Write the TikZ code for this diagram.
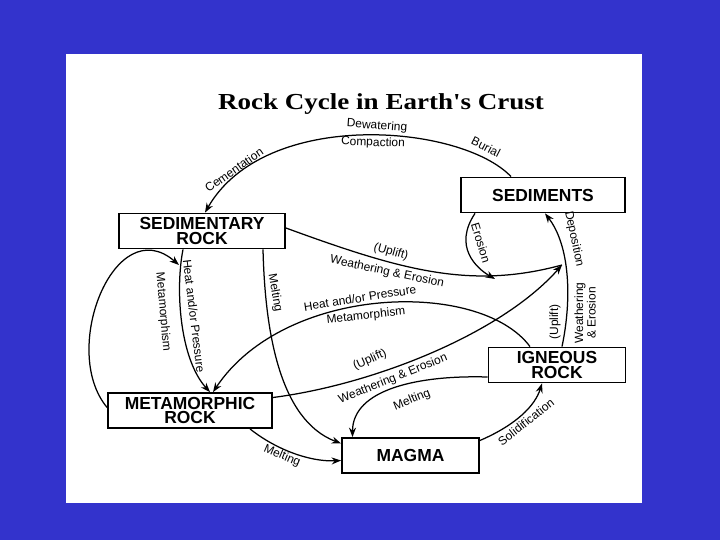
\documentclass[tikz,border=0pt]{standalone}
\usepackage{fontspec}
\setsansfont{Liberation Sans}
\newfontfamily\titlefont[FakeStretch=1.18]{Liberation Serif}
\usepackage{tikz}
\usetikzlibrary{arrows.meta}

\definecolor{slideblue}{RGB}{51,51,204}

\begin{document}
\begin{tikzpicture}[x=1bp, y=-1bp,
    every node/.style={font=\sffamily\fontsize{12}{12.5}\selectfont, inner sep=0pt},
    rockbox/.style={draw, line width=1.8bp, align=center, minimum height=35bp,
        font=\sffamily\bfseries\fontsize{17.5}{14.5}\selectfont},
    flowline/.style={line width=1.25bp},
    flow/.style={flowline, -{Stealth[length=9.5bp, width=7bp]}},
    lbl/.style={align=center}]
    \useasboundingbox (0,0) rectangle (720,540);
    \fill[slideblue] (0,0) rectangle (720,540);
    \fill[white] (66,54) rectangle (642,503);

    \node[font=\titlefont\bfseries\fontsize{23}{25}\selectfont] (title) at (381,104) {Rock Cycle in Earth's Crust};

    % Rock boxes
    \node[rockbox, minimum width=164bp] (sediments) at (543,195) {SEDIMENTS};
    \node[rockbox, minimum width=166bp] (sedrock) at (202,231) {SEDIMENTARY\\ROCK};
    \node[rockbox, minimum width=164bp] (metarock) at (190,410.5) {METAMORPHIC\\ROCK};
    \node[rockbox, minimum width=137bp] (magma) at (410.5,455.5) {MAGMA};
    \node[rockbox, minimum width=137bp] (igneous) at (557,365) {IGNEOUS\\ROCK};

    % Meeting points
    \coordinate (J) at (562,265);
    \coordinate (E) at (495,279);
    \coordinate (L) at (179,265);

    % Sediments to sedimentary rock
    \draw[flow] ([xshift=-32bp]sediments.north) .. controls +(-50,-52.5) and +(60,-105) .. ([xshift=3bp]sedrock.north);
    \node[rotate=35] (cement) at (234,170) {Cementation};
    \node[rotate=-4] (dewater) at (377,126) {Dewatering};
    \node[rotate=-2] (compact) at (373,143) {Compaction};
    \node[rotate=-27] (burial) at (486,147) {Burial};

    % Weathering back to sediments
    \draw[flowline] ([yshift=3bp]sedrock.east) .. controls +(115,42) and +(-92,25) .. (J);
    \node[rotate=-16] (upsed) at (391,252) {(Uplift)};
    \node[rotate=-12] (wesed) at (387,272) {Weathering \& Erosion};
    \draw[flow] ([xshift=-68bp]sediments.south) .. controls +(-22,33) and +(-19,-11) .. (E);
    \node[rotate=-73] (erosion) at (481,243) {Erosion};
    \draw[flow] ([xshift=5bp]igneous.north) .. controls +(10,-47.5) and +(25,32.5) .. ([xshift=2bp]sediments.south);
    \node[rotate=-78] (deposit) at (574,239) {Deposition};
    \node[rotate=90] (upign) at (555,322) {(Uplift)};
    \node[lbl, rotate=90] (weign) at (585,313) {Weathering\\\& Erosion};
    \draw[flow] ([yshift=13bp]metarock.east) .. controls +(98,-12.5) and +(-62,70) .. (J);
    \node[rotate=24] (upmeta) at (370,360) {(Uplift)};
    \node[rotate=22] (wemeta) at (393,379) {Weathering \& Erosion};

    % Metamorphism
    \draw[flow] ([xshift=-19bp]sedrock.south) .. controls +(-8,41) and +(-30,-33) .. ([xshift=20bp]metarock.north);
    \node[rotate=-83] (heatsed) at (194,316) {Heat and/or Pressure};
    \draw[flow] ([yshift=3bp]metarock.west) .. controls +(-48,-57.5) and +(-64,-55) .. (L);
    \node[rotate=-85] (metaloop) at (163,312) {Metamorphism};
    \draw[flow] ([xshift=-27bp]igneous.north) .. controls +(-50,-67.5) and +(72,-108) .. ([xshift=23bp]metarock.north);
    \node[rotate=9] (heatign) at (360,298) {Heat and/or Pressure};
    \node[rotate=6] (metaign) at (366,316) {Metamorphism};

    % Melting and solidification
    \draw[flow] ([xshift=61bp]sedrock.south) .. controls +(2,81) and +(-62,-23.5) .. ([yshift=12bp]magma.west);
    \node[rotate=-80] (meltsed) at (275,293) {Melting};
    \draw[flow] ([xshift=60bp]metarock.south) .. controls +(25,20) and +(-32,1.5) .. ([yshift=-5bp]magma.west);
    \node[rotate=-23] (meltmeta) at (282,456) {Melting};
    \draw[flow] ([yshift=-12bp]igneous.west) .. controls +(-69,-2) and +(0,-48) .. ([xshift=-58bp]magma.north);
    \node[rotate=22] (meltign) at (412,400) {Melting};
    \draw[flow] ([yshift=15bp]magma.east) .. controls +(36,-15.5) and +(-7,22.5) .. ([xshift=-15bp]igneous.south);
    \node[rotate=38] (solid) at (526,422) {Solidification};
\end{tikzpicture}
\end{document}
